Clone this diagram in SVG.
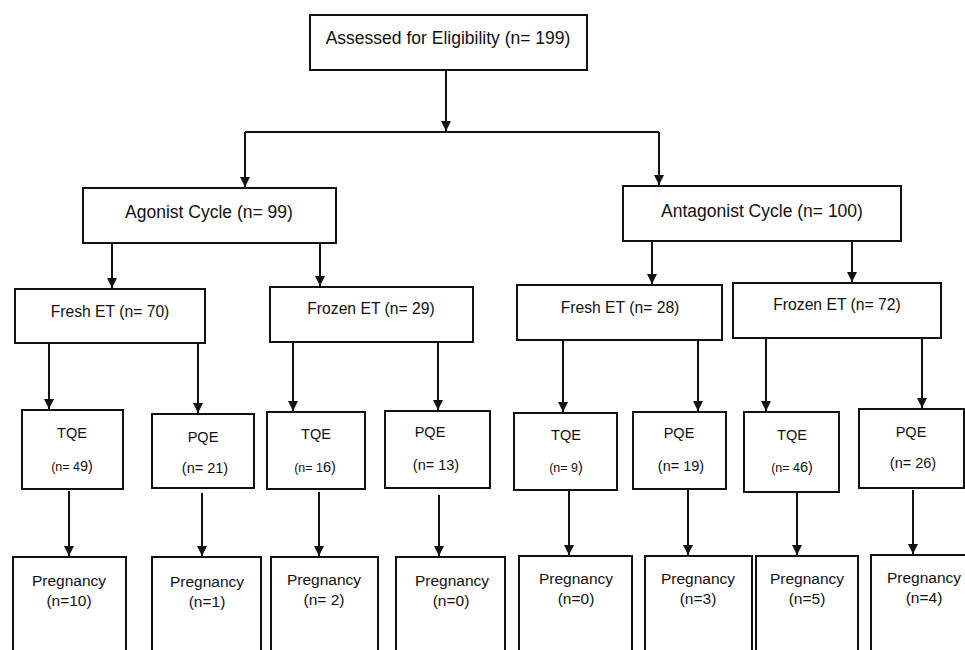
<svg xmlns="http://www.w3.org/2000/svg" width="965" height="650" viewBox="0 0 965 650">
<style>
.box{fill:#fff;stroke:#111;stroke-width:2}
.ln{fill:none;stroke:#111;stroke-width:2}
.ar{fill:none;stroke:#111;stroke-width:2;marker-end:url(#ah)}
text{font-family:"Liberation Sans",Arial,sans-serif;fill:#111;text-anchor:middle}
.t1{font-size:17.5px}
.t2{font-size:15.7px}
.t3{font-size:14.5px}
.t4{font-size:12.5px}
.t5{font-size:15.5px}
.big{font-size:14.5px}
</style>
<defs>
<marker id="ah" markerUnits="userSpaceOnUse" markerWidth="11" markerHeight="10" refX="10" refY="5" orient="auto">
<path d="M0,0 L10,5 L0,10 Z" fill="#111"/>
</marker>
</defs>
<rect width="965" height="650" fill="#fff"/>
<g id="connectors">
<path class="ar" d="M446,70 V131"/>
<path class="ln" d="M245,132 H659"/>
<path class="ar" d="M245,132 V187"/>
<path class="ar" d="M659,132 V185"/>
<path class="ar" d="M112,243 V288"/>
<path class="ar" d="M320,243 V286"/>
<path class="ln" d="M652,240 H852" style="stroke-width:3"/>
<path class="ar" d="M652,240 V284"/>
<path class="ar" d="M852,240 V282"/>
<path class="ar" d="M49,343 V409"/>
<path class="ar" d="M198,343 V413"/>
<path class="ln" d="M293,341 H438" style="stroke-width:3"/>
<path class="ar" d="M293,341 V411"/>
<path class="ar" d="M438,341 V410"/>
<path class="ar" d="M563,340 V412"/>
<path class="ar" d="M698,340 V411"/>
<path class="ar" d="M766,338 V411"/>
<path class="ar" d="M922,338 V408"/>
<path class="ar" d="M69,491 V556"/>
<path class="ar" d="M202,493 V556"/>
<path class="ar" d="M319,492 V556"/>
<path class="ar" d="M439,495 V556"/>
<path class="ar" d="M569,490 V555"/>
<path class="ar" d="M688,489 V555"/>
<path class="ar" d="M797,492 V555"/>
<path class="ar" d="M913,490 V554"/>
</g>
<g id="assessed"><rect class="box" x="310" y="15" width="277" height="55"/><text class="t1" x="448" y="44">Assessed for Eligibility (n= 199)</text></g>
<g id="agonist"><rect class="box" x="83" y="188" width="253" height="55"/><text class="t1" x="209" y="218">Agonist Cycle (n= 99)</text></g>
<g id="antagonist"><rect class="box" x="623" y="186" width="278" height="55"/><text class="t1" x="762" y="217">Antagonist Cycle (n= 100)</text></g>
<g id="fresh70"><rect class="box" x="15" y="289" width="190" height="54"/><text class="t2" x="110" y="317">Fresh ET (n= 70)</text></g>
<g id="frozen29"><rect class="box" x="270" y="287" width="203" height="55"/><text class="t2" x="371" y="314">Frozen ET (n= 29)</text></g>
<g id="fresh28"><rect class="box" x="517" y="285" width="205" height="55"/><text class="t2" x="620" y="313">Fresh ET (n= 28)</text></g>
<g id="frozen72"><rect class="box" x="733" y="283" width="208" height="55"/><text class="t2" x="837" y="310">Frozen ET (n= 72)</text></g>
<g id="tqe49"><rect class="box" x="22" y="410" width="101" height="79"/><text class="t3" x="72" y="438">TQE</text><text class="t4" x="72" y="471">(n= 4<tspan class="big">9)</tspan></text></g>
<g id="pqe21"><rect class="box" x="152" y="414" width="102" height="74"/><text class="t3" x="203" y="442">PQE</text><text class="t3" x="205" y="473">(n= 21)</text></g>
<g id="tqe16"><rect class="box" x="267" y="412" width="98" height="77"/><text class="t3" x="316" y="439">TQE</text><text class="t4" x="315" y="472">(n= 1<tspan class="big">6)</tspan></text></g>
<g id="pqe13"><rect class="box" x="385" y="411" width="105" height="77"/><text class="t3" x="430" y="437">PQE</text><text class="t3" x="436" y="470">(n= 13)</text></g>
<g id="tqe9"><rect class="box" x="514" y="413" width="103" height="77"/><text class="t3" x="566" y="440">TQE</text><text class="t4" x="566" y="472">(n= 9<tspan class="big">)</tspan></text></g>
<g id="pqe19"><rect class="box" x="633" y="412" width="93" height="77"/><text class="t3" x="679" y="438">PQE</text><text class="t3" x="681" y="471">(n= 19)</text></g>
<g id="tqe46"><rect class="box" x="744" y="412" width="95" height="80"/><text class="t3" x="792" y="440">TQE</text><text class="t4" x="792" y="472">(n= 4<tspan class="big">6)</tspan></text></g>
<g id="pqe26"><rect class="box" x="859" y="409" width="105" height="79"/><text class="t3" x="911" y="437">PQE</text><text class="t3" x="913" y="468">(n= 26)</text></g>
<g id="preg10"><rect class="box" x="13" y="557" width="113" height="100"/><text class="t5" x="69" y="586">Pregnancy</text><text class="t5" x="69" y="606">(n=10)</text></g>
<g id="preg1"><rect class="box" x="152" y="557" width="109" height="100"/><text class="t5" x="207" y="587">Pregnancy</text><text class="t5" x="207" y="607">(n=1)</text></g>
<g id="preg2"><rect class="box" x="271" y="557" width="107" height="100"/><text class="t5" x="324" y="585">Pregnancy</text><text class="t5" x="324" y="605">(n= 2)</text></g>
<g id="preg0a"><rect class="box" x="396" y="557" width="109" height="100"/><text class="t5" x="452" y="586">Pregnancy</text><text class="t5" x="451" y="606">(n=0)</text></g>
<g id="preg0b"><rect class="box" x="519" y="556" width="113" height="100"/><text class="t5" x="576" y="584">Pregnancy</text><text class="t5" x="576" y="604">(n=0)</text></g>
<g id="preg3"><rect class="box" x="645" y="556" width="107" height="100"/><text class="t5" x="698" y="584">Pregnancy</text><text class="t5" x="698" y="604">(n=3)</text></g>
<g id="preg5"><rect class="box" x="756" y="556" width="102" height="100"/><text class="t5" x="807" y="584">Pregnancy</text><text class="t5" x="807" y="604">(n=5)</text></g>
<g id="preg4"><rect class="box" x="871" y="555" width="100" height="100"/><text class="t5" x="924" y="583">Pregnancy</text><text class="t5" x="924" y="603">(n=4)</text></g>
</svg>
